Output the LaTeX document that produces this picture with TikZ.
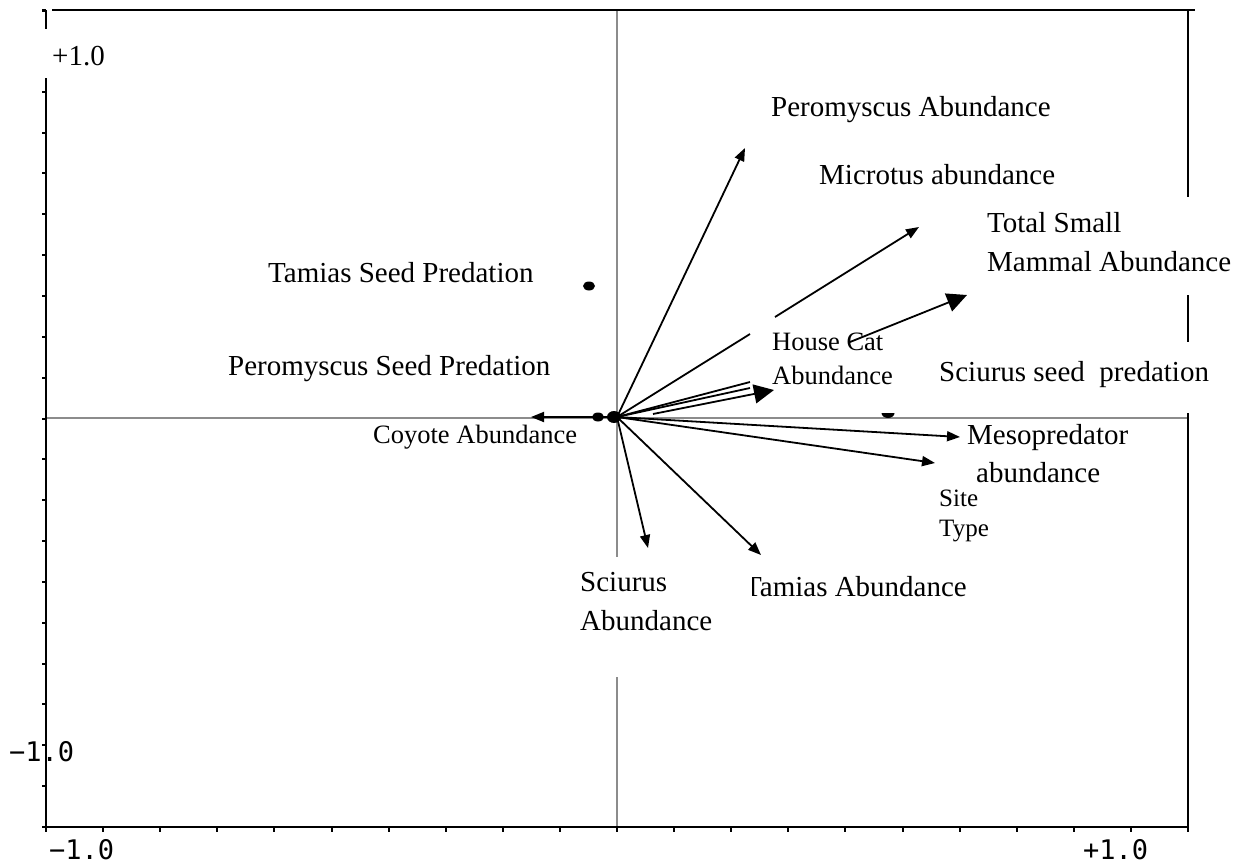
\documentclass[tikz,border=0pt]{standalone}
\usepackage{fontspec}
\setmainfont{Liberation Serif}
\newfontfamily\axisfont{DejaVu Sans Mono}
\usetikzlibrary{arrows.meta,shapes.geometric}
\begin{document}
\begin{tikzpicture}[x=1pt,y=-1pt,
  frame/.style={line width=2pt, black},
  axisline/.style={line width=1.8pt, black!45},
  vec/.style={line width=1.8pt, -{Triangle[length=13pt,width=10pt]}},
  bigvec/.style={line width=1.8pt, -{Triangle[length=20pt,width=19pt]}},
  bare/.style={line width=1.8pt},
  lbl/.style={inner sep=0pt, font=\fontsize{29}{39}\selectfont},
  small/.style={inner sep=0pt, font=\fontsize{26.5}{34}\selectfont},
  ticklbl/.style={inner sep=0pt, font=\axisfont\fontsize{27}{30}\selectfont},
  dotnode/.style={ellipse, fill=black, inner sep=0pt}]
\useasboundingbox (0,0) rectangle (1249,867);

% axis scale labels (the frame line is drawn over the left one)
\node[ticklbl, anchor=base west] (ymin) at (9,761) {−1.0};
\node[ticklbl, anchor=base west] (xmin) at (49,859) {−1.0};
\node[ticklbl, anchor=base west] (xmax) at (1083,859) {+1.0};
\node[lbl, anchor=base west, font=\fontsize{29}{30}\selectfont] (ymax) at (52,65) {+1.0};

% grey zero axes
\draw[axisline] (46,418) -- (1188,418);
\draw[axisline] (617,10) -- (617,557);
\draw[axisline] (617,677) -- (617,827);

% frame
\draw[frame] (42,11) -- (46,11) -- (46,29);
\draw[frame] (46,78) -- (46,827);
\draw[frame] (52,10) -- (1195,10);
\draw[frame] (42,827) -- (1188,827);
\draw[frame] (1188,10) -- (1188,197);
\draw[frame] (1188,295) -- (1188,342);
\draw[frame] (1188,413) -- (1188,832);
\foreach \k in {0,...,20} \draw[frame] ({46+\k*57.1},827) -- ++(0,5);
\foreach \k in {0,2,3,...,20} \draw[frame] (42,{10+\k*40.85}) -- (46,{10+\k*40.85});

% biplot vectors
\coordinate (O) at (617,417);
\coordinate (peroTip) at (745,148);
\coordinate (microA) at (750,334);
\coordinate (microB) at (775,317);
\coordinate (microTip) at (919,227);
\coordinate (tsmA) at (750,382);
\coordinate (tsmB) at (850,342);
\coordinate (tsmTip) at (967,295);
\coordinate (hiddenEnd) at (750,388);
\coordinate (catStart) at (653,414);
\coordinate (catTip) at (774,390);
\coordinate (coyTip) at (531,417);
\coordinate (mesoTip) at (960,437);
\coordinate (siteTip) at (935,463);
\coordinate (sciTip) at (648,548);
\coordinate (tamTip) at (761,555);

\draw[vec] (O) -- (peroTip);
\draw[vec] (O) -- (microA) (microB) -- (microTip);
\draw[bigvec] (O) -- (tsmA) (tsmB) -- (tsmTip);
\draw[bare] (O) -- (hiddenEnd);
\draw[bigvec] (catStart) -- (catTip);
\draw[vec] (O) -- (coyTip);
\draw[vec] (O) -- (mesoTip);
\draw[vec] (O) -- (siteTip);
\draw[vec] (O) -- (sciTip);
\draw[vec] (O) -- (tamTip);

% sample points
\node[dotnode, minimum width=12pt, minimum height=9pt] (tamSeed) at (589,286) {};
\node[dotnode, minimum width=12pt, minimum height=9pt] (peroSeed) at (598,417) {};
\node[dotnode, minimum width=14pt, minimum height=12pt] (origin) at (614,417) {};
\begin{scope}
  \clip (875,413) rectangle (905,425);
  \node[dotnode, minimum width=13pt, minimum height=10pt] (sciSeed) at (888,413) {};
\end{scope}

% labels
\node[lbl, anchor=base west] (peroAb) at (771,116) {Peromyscus Abundance};
\node[lbl, anchor=base west] (microAb) at (819,184) {Microtus abundance};
\node[lbl, anchor=north west, align=left] (tsmAb) at (987,212) {Total Small\\Mammal Abundance};
\node[lbl, anchor=base west] (tamSeedLbl) at (268,282) {Tamias Seed Predation};
\node[lbl, anchor=base west] (peroSeedLbl) at (228,375) {Peromyscus Seed Predation};
\node[small, anchor=north west, align=left] (catAb) at (772,333) {House Cat\\Abundance};
\node[lbl, anchor=base west] (sciSeedLbl) at (939,381) {Sciurus seed\ \ predation};
\node[small, anchor=base west] (coyAb) at (373,443) {Coyote Abundance};
\node[lbl, anchor=north west, align=left, font=\fontsize{29}{38}\selectfont] (mesoAb) at (967,424) {Mesopredator\\\hspace*{9pt}abundance};
\node[small, anchor=north west, align=left, font=\fontsize{25}{30}\selectfont] (siteType) at (939,490) {Site\\Type};
\node[lbl, anchor=base west] (tamAb) at (744,596) {Tamias Abundance};
\node[lbl, anchor=north west, align=left, fill=white, text width=172pt] (sciAb) at (580,572) {Sciurus\\Abundance};
\end{tikzpicture}
\end{document}
